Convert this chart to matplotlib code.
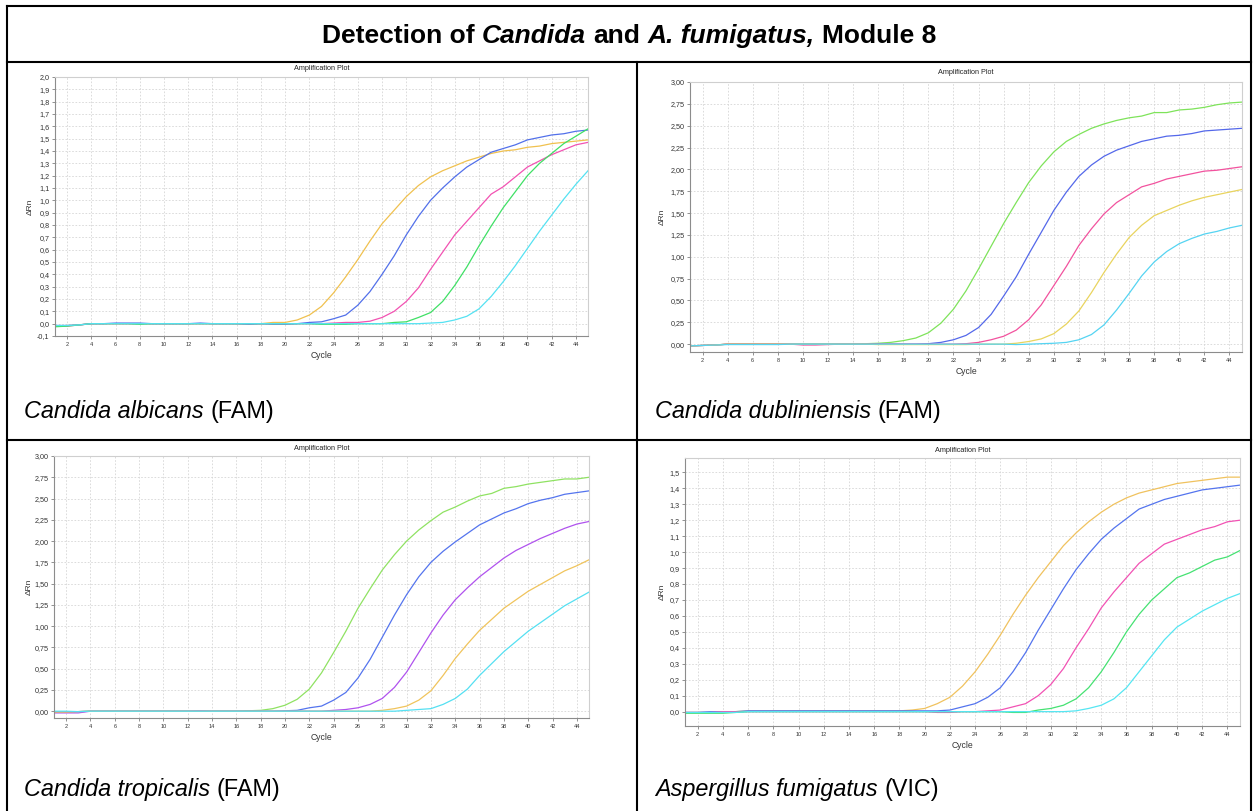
import numpy as np
import matplotlib
matplotlib.use("Agg")
import matplotlib.pyplot as plt
from matplotlib.lines import Line2D
from matplotlib.ticker import FuncFormatter

plt.rcParams['font.family'] = ['Liberation Sans', 'DejaVu Sans']

W, H = 1253, 811

cycles = list(range(1, 46))

# Candida albicans (FAM)
alb_yellow = [-0.02, -0.015, -0.01, 0, 0, 0, 0, 0, 0, 0, 0, 0, 0, 0, 0,
              0, 0, 0, 0.01, 0.01, 0.03, 0.07, 0.14, 0.25, 0.38, 0.52, 0.67, 0.81, 0.92, 1.03,
              1.12, 1.19, 1.24, 1.28, 1.32, 1.35, 1.38, 1.40, 1.41, 1.43, 1.44, 1.46, 1.47, 1.48, 1.49]
alb_blue = [-0.015, -0.015, -0.01, 0, 0, 0.005, 0.005, 0.005, 0, 0, 0, 0, 0.005, 0, 0,
            0, -0.005, 0, -0.005, -0.005, 0, 0.01, 0.015, 0.04, 0.07, 0.15, 0.26, 0.40, 0.55, 0.72,
            0.87, 1.00, 1.10, 1.19, 1.27, 1.33, 1.39, 1.42, 1.45, 1.49, 1.51, 1.53, 1.54, 1.56, 1.57]
alb_pink = [-0.02, -0.02, -0.01, 0, 0, 0, 0, 0, 0, 0, 0, 0, 0, 0, 0,
            0, 0, 0, 0, 0, 0, 0, 0, 0.005, 0.01, 0.01, 0.02, 0.05, 0.10, 0.18,
            0.29, 0.44, 0.58, 0.72, 0.83, 0.94, 1.05, 1.11, 1.19, 1.27, 1.32, 1.37, 1.41, 1.45, 1.47]
alb_green = [-0.025, -0.02, -0.01, 0, 0, 0, 0, -0.005, 0, 0, 0, 0, 0, 0, 0,
             0, 0, 0, 0, 0, 0, 0, -0.005, -0.005, -0.005, 0, 0, 0, 0.01, 0.015,
             0.05, 0.09, 0.18, 0.31, 0.46, 0.63, 0.79, 0.94, 1.07, 1.20, 1.30, 1.38, 1.46, 1.52, 1.58]
alb_cyan = [-0.015, -0.015, -0.01, 0, 0, 0, 0, 0, 0, 0, 0, 0, 0, 0, 0,
            0, 0, 0, 0, 0, 0, 0, 0, 0, 0, 0, 0, 0, 0, 0,
            0, 0.005, 0.01, 0.03, 0.06, 0.12, 0.22, 0.34, 0.47, 0.61, 0.75, 0.88, 1.01, 1.13, 1.24]

# Candida dubliniensis (FAM)
dub_green = [-0.02, -0.015, -0.01, 0, 0, 0, 0, 0, 0, 0, 0, 0, 0, 0, 0.005,
             0.01, 0.02, 0.04, 0.07, 0.13, 0.24, 0.40, 0.61, 0.86, 1.12, 1.38, 1.62, 1.85, 2.04, 2.20,
             2.32, 2.40, 2.47, 2.52, 2.56, 2.59, 2.61, 2.65, 2.65, 2.68, 2.69, 2.71, 2.74, 2.76, 2.77]
dub_blue = [-0.02, -0.015, -0.01, 0, 0, 0, 0, 0, 0, 0, 0, 0, 0, 0, 0,
            0, 0, 0, 0, 0.005, 0.02, 0.05, 0.10, 0.19, 0.34, 0.55, 0.77, 1.03, 1.28, 1.53,
            1.74, 1.92, 2.05, 2.15, 2.22, 2.27, 2.32, 2.35, 2.38, 2.39, 2.41, 2.44, 2.45, 2.46, 2.47]
dub_pink = [-0.02, -0.015, -0.01, 0, 0, 0, 0, 0, 0, -0.01, -0.01, -0.005, 0, 0, 0,
            0, 0, 0, 0, 0, 0, 0, 0.005, 0.02, 0.05, 0.09, 0.16, 0.28, 0.45, 0.67,
            0.89, 1.13, 1.32, 1.49, 1.62, 1.71, 1.80, 1.84, 1.89, 1.92, 1.95, 1.98, 1.99, 2.01, 2.03]
dub_yellow = [-0.02, -0.015, -0.01, 0, 0, 0, 0, 0, 0, 0, 0, 0, 0, 0, 0,
              -0.005, -0.005, -0.005, -0.005, -0.005, -0.005, -0.005, -0.005, 0, 0, 0, 0.01, 0.03, 0.06, 0.12,
              0.23, 0.38, 0.59, 0.82, 1.03, 1.22, 1.36, 1.47, 1.53, 1.59, 1.64, 1.68, 1.71, 1.74, 1.77]
dub_cyan = [-0.02, -0.015, -0.01, -0.005, -0.005, -0.005, -0.005, -0.005, 0, 0, 0, 0, 0, 0, 0,
            0, 0, 0, 0, 0, 0, 0, 0, 0, 0, 0, -0.005, 0, 0.005, 0.01,
            0.02, 0.05, 0.11, 0.22, 0.39, 0.58, 0.78, 0.94, 1.06, 1.15, 1.21, 1.26, 1.29, 1.33, 1.36]

# Candida tropicalis (FAM)
tro_green = [-0.01, -0.01, -0.005, 0, 0, 0, 0, 0, 0, 0, 0, 0, 0, 0, 0,
             0, 0.005, 0.01, 0.03, 0.07, 0.14, 0.26, 0.45, 0.69, 0.94, 1.21, 1.44, 1.66, 1.84, 2.00,
             2.13, 2.24, 2.34, 2.40, 2.47, 2.53, 2.56, 2.62, 2.64, 2.67, 2.69, 2.71, 2.73, 2.73, 2.75]
tro_blue = [-0.01, -0.01, -0.005, 0, 0, 0, 0, 0, 0, 0, 0, 0, 0, 0, 0,
            0, 0, 0, 0, 0.005, 0.01, 0.04, 0.06, 0.13, 0.22, 0.39, 0.61, 0.87, 1.13, 1.37,
            1.58, 1.75, 1.88, 1.99, 2.09, 2.19, 2.26, 2.33, 2.38, 2.44, 2.48, 2.51, 2.55, 2.57, 2.59]
tro_purple = [-0.02, -0.02, -0.02, 0, 0, 0, 0, 0, 0, 0, 0, 0, 0.005, 0, 0,
              0, 0, 0, 0, 0, 0, 0, 0, 0.01, 0.02, 0.04, 0.08, 0.15, 0.28, 0.46,
              0.69, 0.92, 1.13, 1.31, 1.45, 1.58, 1.69, 1.80, 1.89, 1.96, 2.03, 2.09, 2.15, 2.20, 2.23]
tro_yellow = [-0.01, -0.01, -0.005, 0, 0, 0, 0, 0, 0, 0, 0, 0, 0, 0, 0,
              0, 0, 0, 0, 0, 0, 0, 0, 0, 0, 0, 0, 0.01, 0.03, 0.06,
              0.13, 0.24, 0.42, 0.62, 0.79, 0.95, 1.08, 1.21, 1.31, 1.41, 1.49, 1.57, 1.65, 1.71, 1.78]
tro_cyan = [0, 0, -0.005, 0, 0, 0, 0, 0, 0, 0, 0, 0, 0, 0, 0,
            0, 0, 0, 0, 0, 0, 0, 0, 0, 0, 0, 0, 0, 0, 0.01,
            0.02, 0.03, 0.08, 0.15, 0.26, 0.42, 0.56, 0.70, 0.82, 0.94, 1.04, 1.14, 1.24, 1.32, 1.40]

# Aspergillus fumigatus (VIC)
fum_yellow = [-0.005, -0.005, -0.005, 0, 0, 0.005, 0.005, 0.005, 0.005, 0.005, 0.005, 0.005, 0.005, 0.005, 0.005,
              0.005, 0.005, 0.005, 0.01, 0.02, 0.05, 0.09, 0.16, 0.25, 0.36, 0.48, 0.61, 0.73, 0.84, 0.94,
              1.04, 1.12, 1.19, 1.25, 1.30, 1.34, 1.37, 1.39, 1.41, 1.43, 1.44, 1.45, 1.46, 1.47, 1.47]
fum_blue = [-0.005, -0.005, 0, 0, 0, 0.005, 0.005, 0.005, 0.005, 0.005, 0.005, 0.005, 0.005, 0.005, 0.005,
            0.005, 0.005, 0.005, 0.005, 0.005, 0.005, 0.01, 0.03, 0.05, 0.09, 0.15, 0.25, 0.37, 0.51, 0.64,
            0.77, 0.89, 0.99, 1.08, 1.15, 1.21, 1.27, 1.30, 1.33, 1.35, 1.37, 1.39, 1.40, 1.41, 1.42]
fum_pink = [-0.005, -0.005, -0.005, 0, 0, 0, 0, 0, 0, 0, 0, 0, 0, 0, 0,
            0, 0, 0, 0, 0, -0.005, -0.005, 0, 0, 0.005, 0.01, 0.03, 0.05, 0.10, 0.17,
            0.27, 0.40, 0.52, 0.65, 0.75, 0.84, 0.93, 0.99, 1.05, 1.08, 1.11, 1.14, 1.16, 1.19, 1.20]
fum_green = [-0.01, -0.01, -0.01, -0.01, -0.005, 0, 0, 0, 0, 0, 0, 0, 0, 0, 0,
             0, 0, 0, 0, 0, 0, 0, 0, 0, 0, 0, -0.005, -0.005, 0.01, 0.02,
             0.04, 0.08, 0.15, 0.25, 0.37, 0.50, 0.61, 0.70, 0.77, 0.84, 0.87, 0.91, 0.95, 0.97, 1.01]
fum_cyan = [-0.005, -0.005, -0.005, -0.005, -0.005, 0, 0, 0, 0, 0, 0, 0, 0, 0, 0,
            0, 0, 0, 0, 0, 0, 0, 0, 0, 0, 0, 0, 0, 0, 0,
            0, 0.005, 0.02, 0.04, 0.08, 0.15, 0.25, 0.35, 0.45, 0.53, 0.58, 0.63, 0.67, 0.71, 0.74]

fig = plt.figure(figsize=(W / 100, H / 100), dpi=100)


def fx(x):
    return x / W


def fy(y):
    return 1 - y / H


def hline(y, x0, x1, lw=1.5):
    fig.add_artist(Line2D([fx(x0), fx(x1)], [fy(y), fy(y)], color="black", lw=lw))


def vline(x, y0, y1, lw=1.5):
    fig.add_artist(Line2D([fx(x), fx(x)], [fy(y0), fy(y1)], color="black", lw=lw))


def mixed_text(x, y, parts, size, center=False):
    """parts: list of (text, style, weight), joined by single spaces."""
    r = fig.canvas.get_renderer()
    probe1 = fig.text(0, 0, "n n", fontsize=size, weight=parts[0][2])
    probe2 = fig.text(0, 0, "nn", fontsize=size, weight=parts[0][2])
    gap = probe1.get_window_extent(r).width - probe2.get_window_extent(r).width
    probe1.remove()
    probe2.remove()
    texts = [fig.text(0, fy(y), s, fontsize=size, style=st, weight=wt, va="baseline")
             for s, st, wt in parts]
    widths = [t.get_window_extent(r).width for t in texts]
    total = sum(widths) + gap * (len(parts) - 1)
    cur = x - total / 2 if center else x
    for t, w in zip(texts, widths):
        t.set_x(fx(cur))
        cur += w + gap


def draw_panel(box, ylim, yticks, dec, series, colors, title_y, xlabel_y, ylabel_x):
    l, t, r, b = box
    ax = fig.add_axes([fx(l), fy(b), fx(r) - fx(l), fy(t) - fy(b)])
    for vals, c in zip(series, colors):
        ax.plot(cycles, vals, color=c, lw=0.9)
    ax.set_xlim(1, 45)
    ax.set_ylim(*ylim)
    ax.set_xticks(np.arange(2, 45, 2))
    ax.set_yticks(yticks)
    ax.yaxis.set_major_formatter(FuncFormatter(
        lambda v, p: f"{round(v, dec) + 0.0:.{dec}f}".replace(".", ",")))
    ax.tick_params(axis="y", labelsize=5.2, length=2.5, width=0.6, color="#808080",
                   pad=1.5, labelcolor="#333333")
    ax.tick_params(axis="x", labelsize=4, length=2, width=0.6, color="#808080",
                   pad=2, labelcolor="#333333")
    ax.grid(True, color="#d6d6d6", lw=0.6, linestyle=(0, (2, 2)))
    ax.set_axisbelow(True)
    for side in ("left", "bottom"):
        ax.spines[side].set_color("#8c8c8c")
        ax.spines[side].set_linewidth(0.8)
    for side in ("top", "right"):
        ax.spines[side].set_color("#cfcfcf")
        ax.spines[side].set_linewidth(0.8)
    cx = (l + r) / 2
    fig.text(fx(cx), fy(title_y), "Amplification Plot", fontsize=5.2,
             ha="center", va="center", color="#222222")
    fig.text(fx(cx), fy(xlabel_y), "Cycle", fontsize=6.2,
             ha="center", va="center", color="#333333")
    fig.text(fx(ylabel_x), fy((t + b) / 2), "ΔRn", fontsize=6, rotation=90,
             ha="center", va="center", color="#333333")
    return ax


# table frame
hline(6, 7, 1251)
hline(62, 7, 1251)
hline(440, 7, 1251)
vline(7, 6, 811)
vline(1251, 6, 811)
vline(637, 62, 811)

mixed_text(629, 43, [("Detection of", "normal", "bold"),
                     ("Candida", "italic", "bold"),
                     ("and", "normal", "bold"),
                     ("A. fumigatus,", "italic", "bold"),
                     ("Module 8", "normal", "bold")], 19, center=True)

draw_panel((55, 77, 588, 336), (-0.1, 2.0), np.round(np.arange(-0.1, 2.01, 0.1), 2), 1,
           [alb_yellow, alb_blue, alb_pink, alb_green, alb_cyan],
           ["#f0c14f", "#5270ea", "#f252b2", "#3fe065", "#55e2f2"], 69, 355, 30)
draw_panel((690, 82, 1242, 352), (-0.09, 3.0), np.arange(0, 3.01, 0.25), 2,
           [dub_green, dub_blue, dub_pink, dub_yellow, dub_cyan],
           ["#7ee35a", "#5468ea", "#f2529e", "#e9d45e", "#55d4f2"], 73, 371, 662)
draw_panel((54, 456, 589, 718), (-0.08, 3.0), np.arange(0, 3.01, 0.25), 2,
           [tro_green, tro_blue, tro_purple, tro_yellow, tro_cyan],
           ["#8fe262", "#5474ee", "#b052ee", "#f0c45c", "#55e0f2"], 449, 737, 29)
draw_panel((685, 458, 1240, 726), (-0.09, 1.59), np.round(np.arange(0, 1.51, 0.1), 2), 1,
           [fum_yellow, fum_blue, fum_pink, fum_green, fum_cyan],
           ["#f0c25e", "#5474ee", "#f252b4", "#45e272", "#55e6f2"], 450, 745, 662)

mixed_text(24, 418, [("Candida albicans", "italic", "normal"), ("(FAM)", "normal", "normal")], 16.8)
mixed_text(655, 418, [("Candida dubliniensis", "italic", "normal"), ("(FAM)", "normal", "normal")], 16.8)
mixed_text(24, 796, [("Candida tropicalis", "italic", "normal"), ("(FAM)", "normal", "normal")], 16.8)
mixed_text(655, 796, [("Aspergillus fumigatus", "italic", "normal"), ("(VIC)", "normal", "normal")], 16.8)

fig.savefig("out.png", dpi=100)
